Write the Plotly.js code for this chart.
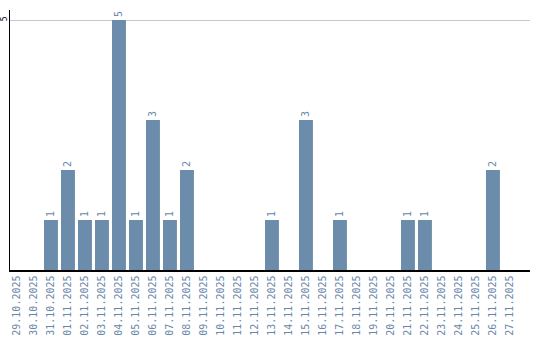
<!DOCTYPE html>
<html><head><meta charset="utf-8">
<script src="https://cdn.plot.ly/plotly-3.0.1.min.js"></script>
<style>html,body{margin:0;padding:0;background:#fff}#c{width:540px;height:340px}</style>
</head><body><div id="c"></div>
<script>
const dates = ["29.10.2025","30.10.2025","31.10.2025","01.11.2025","02.11.2025","03.11.2025","04.11.2025","05.11.2025","06.11.2025","07.11.2025","08.11.2025","09.11.2025","10.11.2025","11.11.2025","12.11.2025","13.11.2025","14.11.2025","15.11.2025","16.11.2025","17.11.2025","18.11.2025","19.11.2025","20.11.2025","21.11.2025","22.11.2025","23.11.2025","24.11.2025","25.11.2025","26.11.2025","27.11.2025"];
const counts = [0,0,1,2,1,1,5,1,3,1,2,0,0,0,0,1,0,3,0,1,0,0,0,1,1,0,0,0,2,0];
const labels = counts.map(v => v ? String(v) : "");
const yTicks = [5];
const barColor = "#6b8cab";
const textColor = "#6a87a8";
const mono = "DejaVu Sans Mono, monospace";

Plotly.newPlot("c", [{
  type: "bar",
  x: dates,
  y: counts,
  text: labels,
  textposition: "outside",
  textangle: -90,
  constraintext: "none",
  cliponaxis: false,
  textfont: {family: mono, size: 10, color: textColor},
  marker: {color: barColor},
  hoverinfo: "none"
}], {
  width: 540, height: 340,
  margin: {l: 10, r: 10, t: 10, b: 70, pad: 0},
  paper_bgcolor: "#fff", plot_bgcolor: "#fff",
  showlegend: false,
  bargap: 0.18,
  xaxis: {
    type: "category",
    range: [-0.41, 30.18],
    showline: true, linecolor: "#000", linewidth: 1.5,
    showgrid: false, zeroline: false,
    ticks: "", tickangle: -90,
    tickfont: {family: mono, size: 10, color: textColor},
    fixedrange: true
  },
  yaxis: {
    range: [0, 5.2],
    tickvals: yTicks, ticktext: yTicks.map(String),
    tickangle: -90,
    tickfont: {family: mono, size: 8, color: "#000"},
    showline: true, linecolor: "#000", linewidth: 1.5,
    showgrid: true, gridcolor: "#c8c8c8", gridwidth: 1,
    zeroline: false, ticks: "", ticklabelstandoff: -2,
    fixedrange: true
  }
}, {staticPlot: true, displayModeBar: false});
</script></body></html>
